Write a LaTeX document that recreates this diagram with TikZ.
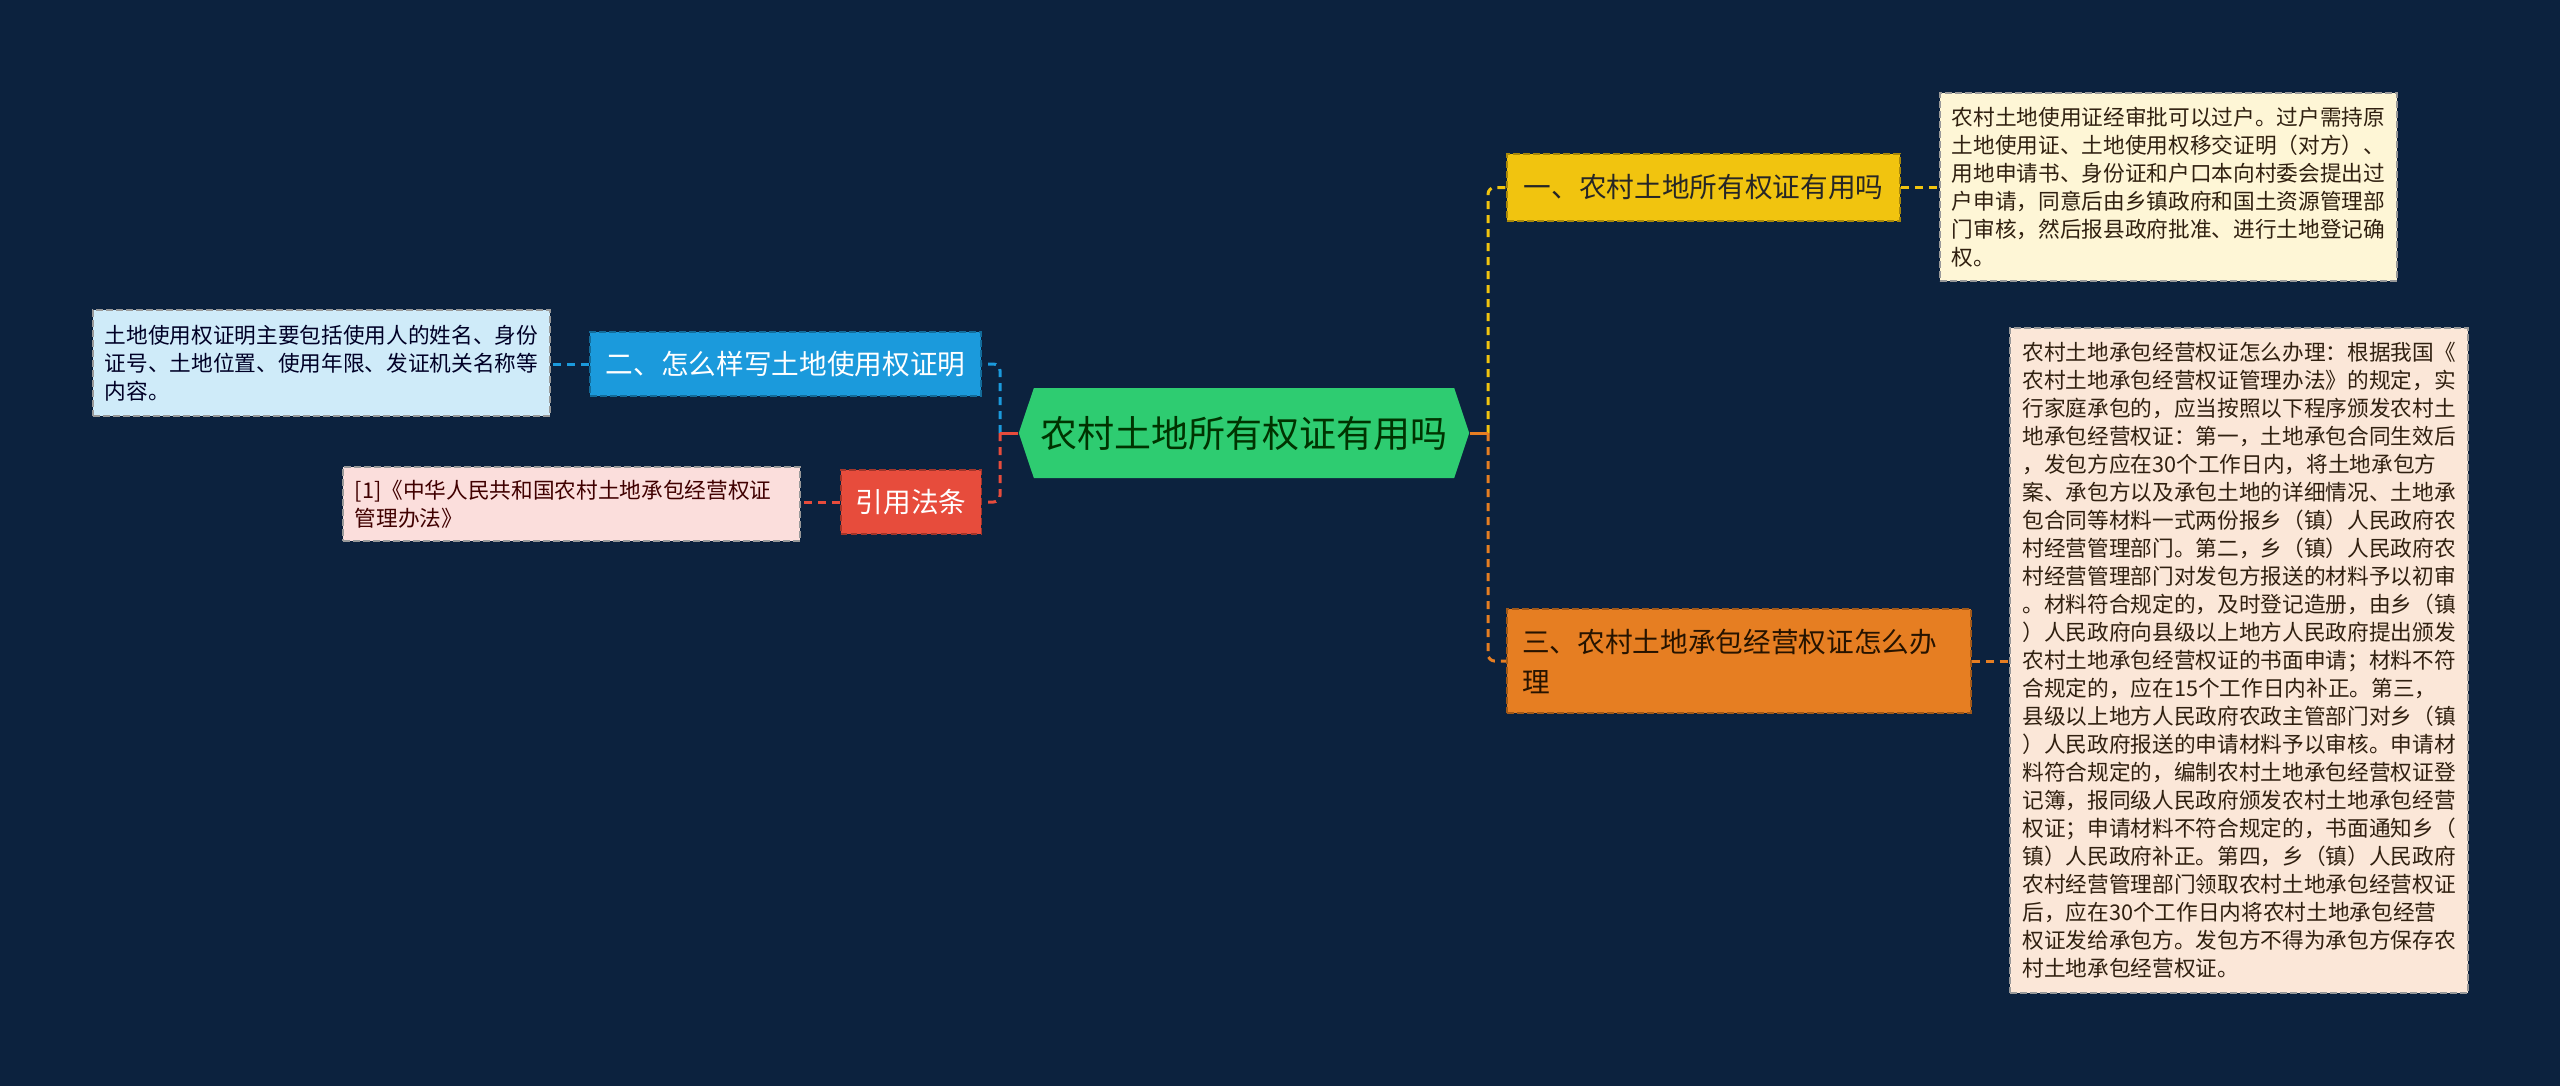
\documentclass[tikz,border=0pt]{standalone}
\usepackage{fontspec}
\setmainfont{Noto Sans CJK SC}
\usepackage{tikz}
\usetikzlibrary{shapes.symbols}
\definecolor{bgnavy}{RGB}{12,34,62}
\definecolor{rootgreen}{RGB}{46,204,113}
\definecolor{ayellow}{RGB}{241,196,15}
\definecolor{aorange}{RGB}{230,126,34}
\definecolor{ablue}{RGB}{27,154,220}
\definecolor{ared}{RGB}{231,76,60}
\definecolor{lyellow}{RGB}{254,246,214}
\definecolor{lorange}{RGB}{251,231,216}
\definecolor{lblue}{RGB}{207,235,249}
\definecolor{lred}{RGB}{251,222,220}

\begin{document}
\begin{tikzpicture}[
    x=0.3pt, y=-0.3pt,
    root/.style={signal, signal to=west and east, signal pointer angle=143, fill=rootgreen,
        text=black!80!green, font=\fontsize{11.1}{13}\selectfont, inner sep=2pt,
        minimum width=134.4pt, minimum height=27pt},
    topic/.style={draw, dash pattern=on 2pt off 1pt, line width=0.5pt, inner xsep=4.5pt,
        align=left, font=\fontsize{8.3}{12}\selectfont},
    leaf/.style={draw=black!40, dash pattern=on 2pt off 1pt, line width=0.5pt, inner xsep=3.5pt,
        text width=130pt, align=left, font=\fontsize{6.5}{8.4}\selectfont},
    stub/.style={line width=0.9pt},
    link/.style={line width=0.9pt, dash pattern=on 2.4pt off 1.8pt, rounded corners=2pt}
]

% background
\fill[bgnavy] (0,0) rectangle (2560,1086);

% centre
\node[root] (root) at (1244,433) {农村土地所有权证有用吗};
\coordinate (busL) at (1000,433);
\coordinate (busR) at (1488,433);

% right side
\node[topic, fill=ayellow, draw=ayellow!70!black, text=black!85, minimum width=117.9pt, minimum height=20.1pt] (t1) at (1703.5,187.5) {一、农村土地所有权证有用吗};
\node[topic, fill=aorange, draw=aorange!70!black, text=black!85!orange, text width=130.2pt, minimum height=31.2pt] (t3) at (1739,661) {三、农村土地承包经营权证怎么办\\理};

\node[leaf, fill=lyellow, text=black!75!brown, minimum width=137.1pt, minimum height=56.4pt] (l1) at (2168.5,187) {农村土地使用证经审批可以过户。过户需持原\\土地使用证、土地使用权移交证明（对方）、\\用地申请书、身份证和户口本向村委会提出过\\户申请，同意后由乡镇政府和国土资源管理部\\门审核，然后报县政府批准、进行土地登记确\\权。};
\node[leaf, fill=lorange, text=black!75!brown, minimum width=137.4pt, minimum height=199.5pt] (l3) at (2239,660.5) {农村土地承包经营权证怎么办理：根据我国《\\农村土地承包经营权证管理办法》的规定，实\\行家庭承包的，应当按照以下程序颁发农村土\\地承包经营权证：第一，土地承包合同生效后\\，发包方应在30个工作日内，将土地承包方\\案、承包方以及承包土地的详细情况、土地承\\包合同等材料一式两份报乡（镇）人民政府农\\村经营管理部门。第二，乡（镇）人民政府农\\村经营管理部门对发包方报送的材料予以初审\\。材料符合规定的，及时登记造册，由乡（镇\\）人民政府向县级以上地方人民政府提出颁发\\农村土地承包经营权证的书面申请；材料不符\\合规定的，应在15个工作日内补正。第三，\\县级以上地方人民政府农政主管部门对乡（镇\\）人民政府报送的申请材料予以审核。申请材\\料符合规定的，编制农村土地承包经营权证登\\记簿，报同级人民政府颁发农村土地承包经营\\权证；申请材料不符合规定的，书面通知乡（\\镇）人民政府补正。第四，乡（镇）人民政府\\农村经营管理部门领取农村土地承包经营权证\\后，应在30个工作日内将农村土地承包经营\\权证发给承包方。发包方不得为承包方保存农\\村土地承包经营权证。};

% left side
\node[topic, fill=ablue, draw=ablue!70!black, text=white, minimum width=117.3pt, minimum height=19.2pt] (t2) at (785.5,364) {二、怎么样写土地使用权证明};
\node[topic, fill=ared, draw=ared!70!black, text=white, minimum width=42pt, minimum height=19.2pt] (tr) at (911,502) {引用法条};

\node[leaf, fill=lblue, text=black!85!blue, minimum width=137.1pt, minimum height=31.8pt] (l2) at (321.5,363) {土地使用权证明主要包括使用人的姓名、身份\\证号、土地位置、使用年限、发证机关名称等\\内容。};
\node[leaf, fill=lred, text=black!75!red, minimum width=137.1pt, minimum height=22.2pt] (lr) at (571.5,504) {[1]《中华人民共和国农村土地承包经营权证\\管理办法》};

% connectors
\draw[stub, ablue] (root.west) -- (busL);
\draw[link, ablue] (busL) |- (t2.east);
\draw[stub, ared] (root.west) -- (busL);
\draw[link, ared] (busL) |- (tr.east);
\draw[stub, ayellow] (root.east) -- (busR);
\draw[link, ayellow] (busR) |- (t1.west);
\draw[stub, aorange] (root.east) -- (busR);
\draw[link, aorange] (busR) |- (t3.west);

\draw[link, ayellow] (t1.east) -- (l1.west |- t1.east);
\draw[link, aorange] (t3.east) -- (l3.west |- t3.east);
\draw[link, ablue] (t2.west) -- (l2.east |- t2.west);
\draw[link, ared] (tr.west) -- (lr.east |- tr.west);

\end{tikzpicture}
\end{document}
